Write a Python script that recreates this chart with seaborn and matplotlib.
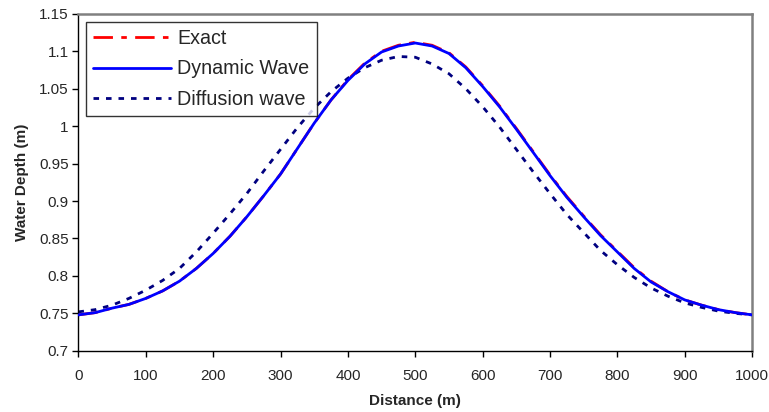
import matplotlib
matplotlib.use("Agg")
import matplotlib.pyplot as plt
import matplotlib.ticker as mticker
import seaborn as sns
import pandas as pd

distance = [0, 25, 50, 75, 100, 125, 150, 175, 200, 225, 250, 275, 300, 325, 350, 375, 400,
            425, 450, 475, 500, 525, 550, 575, 600, 625, 650, 675, 700, 725, 750, 775, 800,
            825, 850, 875, 900, 925, 950, 975, 1000]

exact = [0.748, 0.751, 0.757, 0.762, 0.770, 0.780, 0.793, 0.810, 0.830, 0.853, 0.879, 0.907,
         0.936, 0.970, 1.004, 1.035, 1.062, 1.084, 1.100, 1.108, 1.112, 1.108, 1.098, 1.079,
         1.054, 1.027, 0.997, 0.966, 0.935, 0.906, 0.880, 0.855, 0.833, 0.811, 0.793, 0.779,
         0.768, 0.761, 0.755, 0.751, 0.748]

dynamic = [0.748, 0.751, 0.757, 0.762, 0.770, 0.780, 0.793, 0.810, 0.830, 0.853, 0.879, 0.907,
           0.936, 0.970, 1.004, 1.035, 1.061, 1.083, 1.099, 1.107, 1.111, 1.107, 1.097, 1.078,
           1.053, 1.026, 0.996, 0.965, 0.934, 0.905, 0.879, 0.854, 0.832, 0.810, 0.792, 0.779,
           0.768, 0.761, 0.755, 0.751, 0.748]

diffusion = [0.752, 0.755, 0.761, 0.770, 0.781, 0.794, 0.810, 0.832, 0.857, 0.883, 0.910, 0.940,
             0.969, 0.998, 1.024, 1.046, 1.064, 1.078, 1.088, 1.093, 1.092, 1.083, 1.070, 1.050,
             1.026, 0.999, 0.969, 0.939, 0.910, 0.882, 0.858, 0.834, 0.815, 0.798, 0.784, 0.773,
             0.764, 0.758, 0.753, 0.750, 0.748]

series_names = ["Exact", "Dynamic Wave", "Diffusion wave"]
x_ticks = [0, 100, 200, 300, 400, 500, 600, 700, 800, 900, 1000]
y_ticks = [0.7, 0.75, 0.8, 0.85, 0.9, 0.95, 1.0, 1.05, 1.1, 1.15]

sns.set_theme(style="white")
plt.rcParams['font.family'] = ['Liberation Sans', 'DejaVu Sans']

df = pd.DataFrame({"Distance": distance, "Exact": exact,
                   "Dynamic Wave": dynamic, "Diffusion wave": diffusion})

fig = plt.figure(figsize=(7.69, 4.12), dpi=100)
ax = fig.add_axes([0.102, 0.1485, 0.876, 0.818])

sns.lineplot(data=df, x="Distance", y="Dynamic Wave", ax=ax, color="#0000ff",
             linewidth=2.0, label=series_names[1], zorder=3)
sns.lineplot(data=df, x="Distance", y="Exact", ax=ax, color="#ff0000",
             linewidth=2.0, linestyle=(0, (7, 3, 2, 3)), label=series_names[0], zorder=2)
sns.lineplot(data=df, x="Distance", y="Diffusion wave", ax=ax, color="#000080",
             linewidth=2.0, linestyle=(0, (2, 2.5)), label=series_names[2], zorder=2)

ax.set_xlim(0, 1000)
ax.set_ylim(0.7, 1.15)
ax.set_xticks(x_ticks)
ax.set_yticks(y_ticks)
ax.yaxis.set_major_formatter(mticker.FormatStrFormatter('%g'))
ax.tick_params(axis='both', which='major', direction='out', length=4, width=1,
               color='black', labelsize=11, pad=3, bottom=True, left=True)
ax.tick_params(axis='x', pad=9)

for side in ['left', 'bottom']:
    ax.spines[side].set_color('black')
    ax.spines[side].set_linewidth(1.0)
for side in ['top', 'right']:
    ax.spines[side].set_color('#808080')
    ax.spines[side].set_linewidth(1.8)

ax.set_xlabel("Distance (m)", fontsize=11, fontweight='bold', labelpad=8)
ax.set_ylabel("Water Depth (m)", fontsize=11, fontweight='bold', labelpad=7)

handles, labels = ax.get_legend_handles_labels()
order = [labels.index(n) for n in series_names]
leg = ax.legend([handles[i] for i in order], [labels[i] for i in order],
                loc='upper left', bbox_to_anchor=(0.011, 0.977), borderaxespad=0,
                fontsize=14.2, handlelength=3.95, handletextpad=0.3, labelspacing=0.58,
                frameon=True, fancybox=False, edgecolor='black', borderpad=0.38)
leg.get_frame().set_linewidth(1.0)

fig.savefig("out.png", dpi=100)
